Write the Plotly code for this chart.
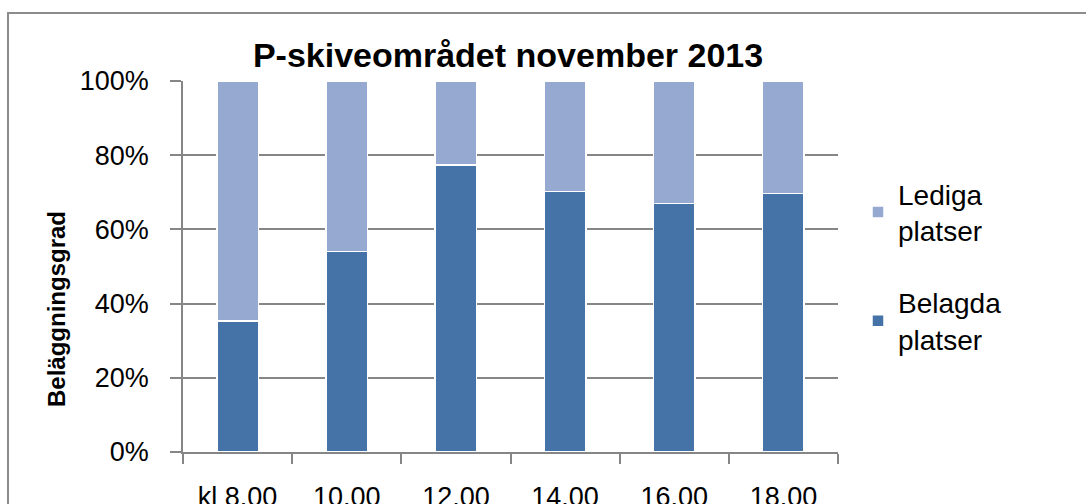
import plotly.graph_objects as go

categories = ["kl 8.00", "10.00", "12.00", "14.00", "16.00", "18.00"]
belagda = [35.3, 54.0, 77.4, 70.2, 67.0, 69.7]
lediga = [64.7, 46.0, 22.6, 29.8, 33.0, 30.3]
series_names = ["Belagda<br>platser", "Lediga<br>platser"]
title_text = "P-skiveområdet november 2013"
y_title = "Beläggningsgrad"

W, H = 1086, 504
L, R, T, B = 183, 838, 81, 452
pw, ph = R - L, B - T

def px_x(p):
    return (p - L) / pw

def px_y(p):
    return (B - p) / ph

grey = "#868686"
font_fam = "Liberation Sans, Arial, sans-serif"

fig = go.Figure()
fig.add_bar(x=categories, y=belagda, name=series_names[0], legendgroup="b", legendrank=2,
            marker=dict(color="#4572A7", line=dict(color="white", width=1.5)))
fig.add_bar(x=categories, y=lediga, name=series_names[1], legendgroup="l", legendrank=1,
            marker=dict(color="#95A9D1", line=dict(color="white", width=1.5)))

fig.update_layout(
    width=W, height=H,
    barmode="stack", bargap=0.62,
    margin=dict(l=L, r=W - R, t=T, b=H - B, autoexpand=False),
    paper_bgcolor="white", plot_bgcolor="white",
    font=dict(family=font_fam, color="black"),
    title=dict(text="<b>" + title_text + "</b>", x=508 / W, xanchor="center",
               y=1 - 55 / H, yanchor="middle",
               font=dict(family=font_fam, size=34, color="black")),
    legend=dict(x=px_x(858), xanchor="left", y=px_y(169), yanchor="top",
                traceorder="grouped", tracegroupgap=33,
                font=dict(family=font_fam, size=28, color="black"),
                bgcolor="rgba(0,0,0,0)"),
    showlegend=True,
)

fig.update_yaxes(
    range=[0, 100], dtick=20, ticksuffix="%",
    showgrid=True, gridcolor=grey, gridwidth=1.5,
    showline=True, linecolor=grey, linewidth=1.5,
    ticks="outside", ticklen=11, tickcolor=grey, tickwidth=1.5,
    ticklabelstandoff=16,
    tickfont=dict(family=font_fam, size=27, color="black"),
    zeroline=False, fixedrange=True,
)
fig.update_xaxes(
    showgrid=False, showline=True, linecolor=grey, linewidth=1.5,
    ticks="outside", tickson="boundaries", ticklen=10, tickcolor=grey, tickwidth=1.5,
    ticklabelstandoff=20,
    tickfont=dict(family=font_fam, size=27, color="black"),
    fixedrange=True,
)

fig.add_annotation(text="<b>" + y_title + "</b>", textangle=-90, showarrow=False,
                   xref="paper", yref="paper", x=px_x(56), y=px_y(309),
                   xanchor="center", yanchor="middle",
                   font=dict(family=font_fam, size=24, color="black"))

fig.add_shape(type="rect", xref="paper", yref="paper",
              x0=px_x(8), x1=px_x(1200), y0=px_y(600), y1=px_y(13),
              line=dict(color="#8c8c8c", width=2), fillcolor="rgba(0,0,0,0)", layer="below")

fig.write_html("out.html", config={"displayModeBar": False},
               post_script="document.body.style.margin='0';document.body.style.overflow='hidden';")
